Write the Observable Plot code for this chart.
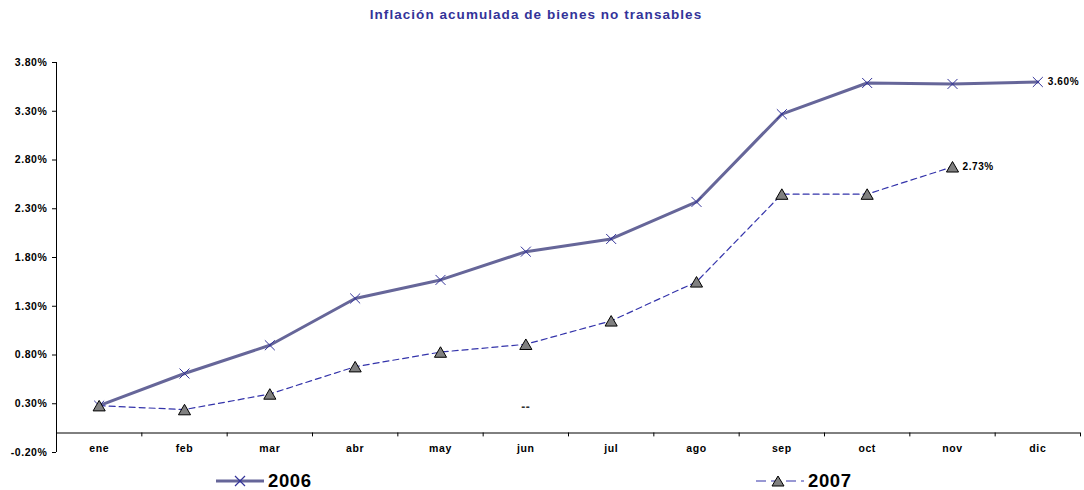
<!DOCTYPE html>
<html>
<head>
<meta charset="utf-8">
<script src="https://cdn.jsdelivr.net/npm/d3@7"></script>
<script src="https://cdn.jsdelivr.net/npm/@observablehq/plot@0.6"></script>
<style>
  body { margin: 0; background: #fff; font-family: "Liberation Sans", Arial, sans-serif; }
  #wrap { position: relative; width: 1084px; height: 490px; }
  #title { position: absolute; left: 0; top: 7px; width: 1072px; text-align: center; font-weight: bold; font-size: 13.5px; letter-spacing: 1.05px; color: #333399; }
  #chart { position: absolute; left: 0; top: 30px; }
  .leg { position: absolute; top: 468px; height: 26px; display: flex; align-items: center; font-weight: bold; font-size: 18.5px; letter-spacing: 0.6px; color: #000; }
  .leg svg { margin-right: 4px; }
</style>
</head>
<body>
<div id="wrap">
  <div id="title">Inflación acumulada de bienes no transables</div>
  <div id="chart"></div>
  <div class="leg" style="left:216px">
    <svg width="48" height="14"><line x1="0" y1="7" x2="48" y2="7" stroke="#666699" stroke-width="3"/><path d="M19,2L29,12M29,2L19,12" stroke="#333399" stroke-width="1.2" fill="none"/></svg>
    <span id="l2006"></span>
  </div>
  <div class="leg" style="left:756px">
    <svg width="48" height="14"><line x1="0" y1="7" x2="48" y2="7" stroke="#3333aa" stroke-width="1.2" stroke-dasharray="10,5"/><path d="M22,2L28,12L16,12Z" fill="#808080" stroke="#000" stroke-width="1"/></svg>
    <span id="l2007"></span>
  </div>
</div>
<script>
const months = ["ene","feb","mar","abr","may","jun","jul","ago","sep","oct","nov","dic"];
const seriesNames = ["2006","2007"];
const v2006 = [0.28, 0.61, 0.90, 1.38, 1.57, 1.86, 1.99, 2.37, 3.27, 3.59, 3.58, 3.60];
const v2007 = [0.28, 0.24, 0.40, 0.68, 0.83, 0.91, 1.15, 1.55, 2.45, 2.45, 2.73];
const yTicks = [-0.2, 0.3, 0.8, 1.3, 1.8, 2.3, 2.8, 3.3, 3.8];
const endLabels = [
  {month: "dic", value: 3.60, text: "3.60%"},
  {month: "nov", value: 2.73, text: "2.73%"}
];
const strayMark = [{month: "jun", value: 0.26, text: "--"}];

document.getElementById("l2006").textContent = seriesNames[0];
document.getElementById("l2007").textContent = seriesNames[1];

const idx = m => months.indexOf(m) + 0.5;
const d2006 = v2006.map((v, i) => ({x: i + 0.5, y: v}));
const d2007 = v2007.map((v, i) => ({x: i + 0.5, y: v}));
const boundaries = d3.range(1, months.length + 1);

const chart = Plot.plot({
  width: 1084,
  height: 435,
  marginLeft: 56,
  marginRight: 4,
  marginTop: 32,
  marginBottom: 13,
  style: {fontFamily: "'Liberation Sans', Arial, sans-serif", background: "#fff", color: "#000", letterSpacing: "0.6px"},
  x: {type: "linear", domain: [0, months.length], axis: null},
  y: {domain: [-0.2, 3.8], axis: null},
  marks: [
    Plot.axisY(yTicks, {tickFormat: d => d.toFixed(2) + "%", tickSize: 4, tickPadding: 5, fontWeight: "bold", fontSize: 10.5, label: null, stroke: "#000"}),
    Plot.ruleX([0], {y1: -0.2, y2: 3.8, stroke: "#000", strokeWidth: 1}),
    Plot.ruleY([0], {stroke: "#000", strokeWidth: 1}),
    Plot.ruleX(boundaries, {y1: 0, y2: -0.04, stroke: "#000", strokeWidth: 1}),
    Plot.text(months, {x: (d, i) => i + 0.5, y: 0, dy: 16, text: d => d, fontWeight: "bold", fontSize: 10.5}),
    Plot.line(d2006, {x: "x", y: "y", stroke: "#666699", strokeWidth: 3}),
    Plot.dot(d2006, {x: "x", y: "y", symbol: "times", r: 4.6, stroke: "#333399", strokeWidth: 1}),
    Plot.line(d2007, {x: "x", y: "y", stroke: "#3333aa", strokeWidth: 1.2, strokeDasharray: "6,4"}),
    Plot.dot(d2007, {x: "x", y: "y", symbol: "triangle", r: 4.5, dy: 1.7, fill: "#808080", stroke: "#000", strokeWidth: 1}),
    Plot.text(endLabels, {x: d => idx(d.month), y: "value", text: "text", dx: 10, textAnchor: "start", fontWeight: "bold", fontSize: 10}),
    Plot.text(strayMark, {x: d => idx(d.month), y: "value", text: "text", fontSize: 12, fontWeight: "bold", fill: "#333"})
  ]
});
document.getElementById("chart").appendChild(chart);
</script>
</body>
</html>
